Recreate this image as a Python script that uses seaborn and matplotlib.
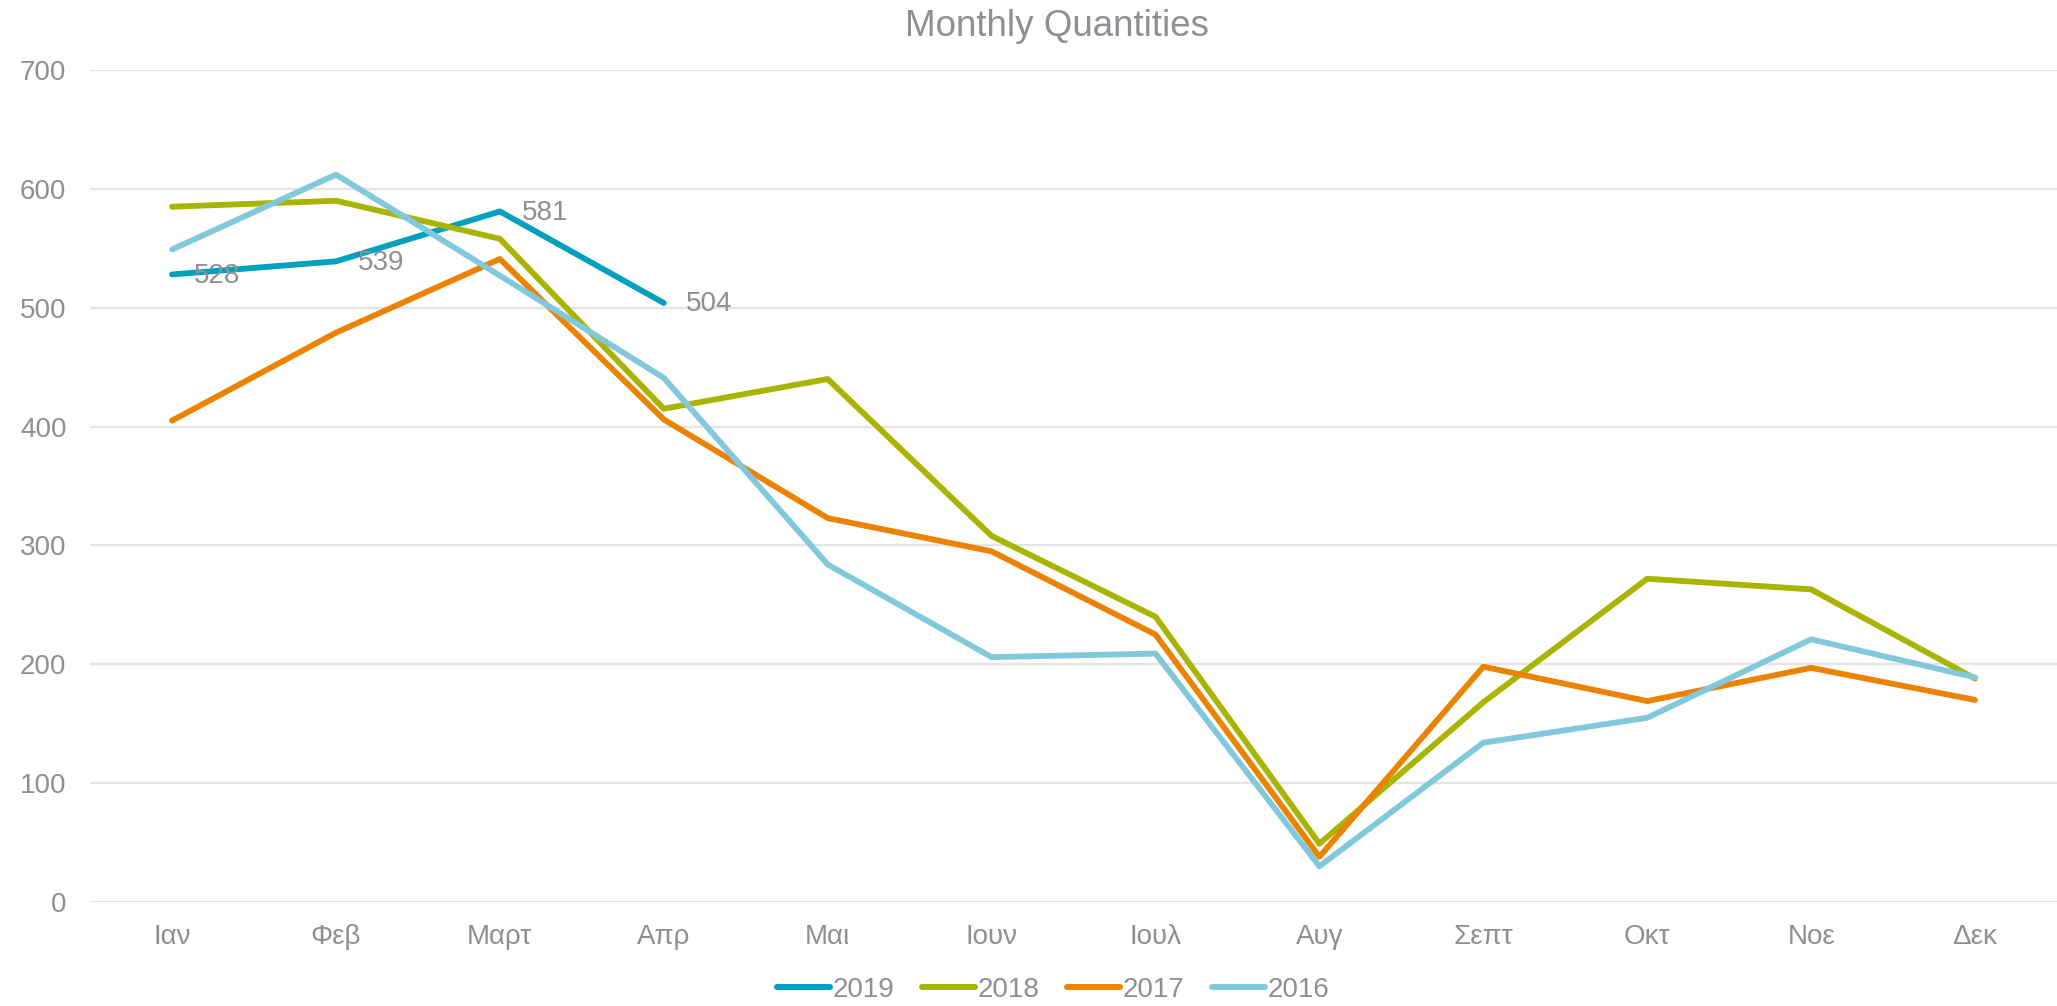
import pandas as pd
import seaborn as sns
import matplotlib.pyplot as plt

months = ["Ιαν", "Φεβ", "Μαρτ", "Απρ", "Μαι", "Ιουν", "Ιουλ", "Αυγ", "Σεπτ", "Οκτ", "Νοε", "Δεκ"]
years = ["2019", "2018", "2017", "2016"]
q2019 = [528, 539, 581, 504]
q2018 = [585, 590, 558, 415, 440, 308, 240, 49, 168, 272, 263, 188]
q2017 = [405, 479, 541, 406, 323, 295, 225, 38, 198, 169, 197, 170]
q2016 = [549, 612, 527, 441, 284, 206, 209, 30, 134, 155, 221, 189]
colors = ["#00A0BF", "#A8B400", "#EB8200", "#82C8DC"]

series = {"2019": q2019, "2018": q2018, "2017": q2017, "2016": q2016}
rows = []
for y in years:
    for i, v in enumerate(series[y]):
        rows.append({"Μήνας": i, "Έτος": y, "Ποσότητα": v})
df = pd.DataFrame(rows)

sns.set_style("white")
plt.rcParams["font.family"] = ["Liberation Sans", "DejaVu Sans"]
gray = "#8E8F94"

fig = plt.figure(figsize=(20.57, 10.06), dpi=100)
ax = fig.add_axes([0.0438, 0.1034, 0.9562, 0.827])

sns.lineplot(data=df, x="Μήνας", y="Ποσότητα", hue="Έτος", hue_order=years,
             palette=colors, linewidth=4.2, ax=ax, legend=False)

# ετικέτες τιμών για το 2019
for i, v in enumerate(q2019):
    ax.annotate(str(v), (i, v), xytext=(16, -1), textcoords="offset points",
                ha="left", va="center", fontsize=20, color=gray)

ax.set_xlim(-0.5, 11.5)
ax.set_ylim(0, 700)
ax.set_yticks(range(0, 701, 100))
ax.set_xticks(range(12))
ax.set_xticklabels(months)
ax.tick_params(axis="both", length=0, labelsize=20, labelcolor=gray)
ax.tick_params(axis="x", pad=16)
ax.tick_params(axis="y", pad=17)
ax.grid(axis="y", color="#E4E4E4", linewidth=1.7)
ax.set_axisbelow(True)
for s in ax.spines.values():
    s.set_visible(False)
ax.set_xlabel("")
ax.set_ylabel("")

fig.text(0.514, 0.974, "Monthly Quantities", ha="center", va="center", fontsize=26.5, color=gray)

handles = [plt.Line2D([], [], color=c, linewidth=4.3) for c in colors]
fig.legend(handles, years, loc="center", bbox_to_anchor=(0.512, 0.016), ncol=4, frameon=False,
           fontsize=20, labelcolor=gray, handlelength=1.9, handletextpad=0.1, columnspacing=1.0)

fig.savefig("out.png", dpi=100)
